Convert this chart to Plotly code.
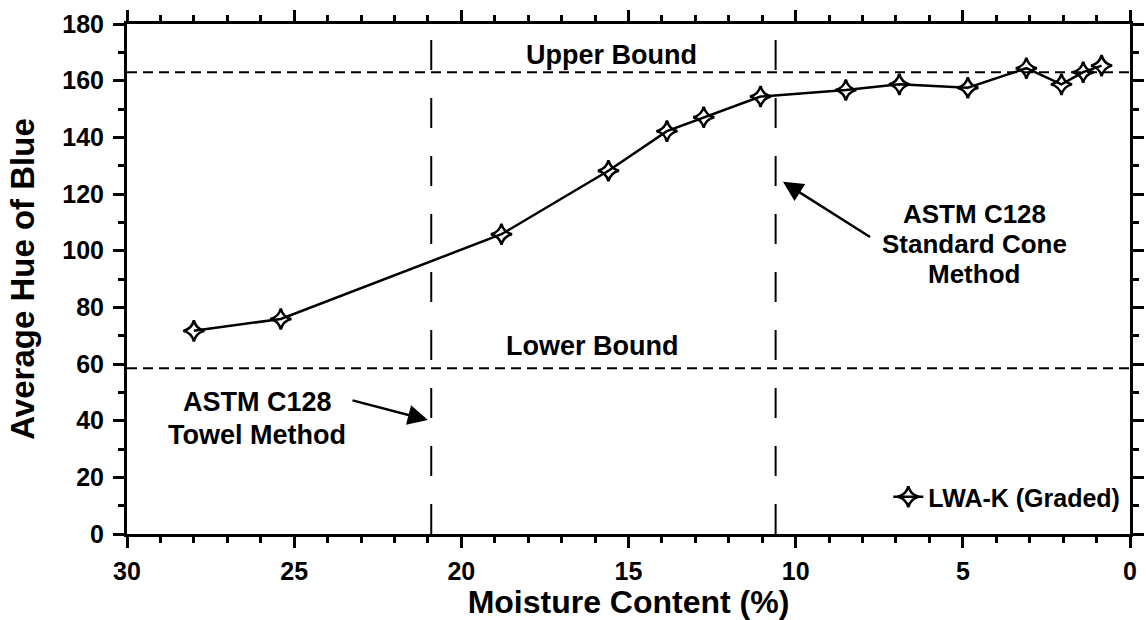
import plotly.graph_objects as go

# Moisture content (%) and average hue of blue for LWA-K (Graded)
moisture = [28.0, 25.4, 18.8, 15.6, 13.85, 12.75, 11.05, 8.5, 6.9, 4.85, 3.1, 2.05, 1.4, 0.85]
hue = [71.7, 75.9, 105.8, 128.2, 142.2, 147.1, 154.4, 156.7, 158.7, 157.5, 164.4, 158.7, 163.0, 165.3]
series_name = "LWA-K (Graded)"

# Reference bounds and ASTM C128 moisture levels
upper_bound = 163.0
lower_bound = 58.5
towel_method = 20.9
cone_method = 10.6

x_range = [30, 0]
y_range = [0, 180]

FONT = "Liberation Sans, Arial, sans-serif"
L, R, T, B = 127, 2, 24, 86

fig = go.Figure()
fig.add_trace(go.Scatter(
    x=moisture, y=hue, mode="lines+markers", name=series_name,
    line=dict(color="black", width=2.5),
    marker=dict(symbol="star-diamond-open", size=15, color="black",
                line=dict(color="black", width=2.5)),
    cliponaxis=False,
))

# Horizontal bound lines
for yb in (upper_bound, lower_bound):
    fig.add_shape(type="line", xref="paper", yref="y", x0=0, x1=1, y0=yb, y1=yb,
                  line=dict(color="black", width=2, dash="10px,6px"), layer="below")
# Vertical method lines
for xm in (towel_method, cone_method):
    fig.add_shape(type="line", xref="x", yref="paper", x0=xm, x1=xm, y0=0, y1=1,
                  line=dict(color="black", width=2, dash="30px,28px"), layer="below")

tfont = dict(family=FONT, size=27, color="black", weight="bold")


def label(x, y, text, size=27):
    fig.add_annotation(x=x, y=y, text=text, showarrow=False,
                       font=dict(tfont, size=size),
                       xanchor="center", yanchor="middle")


label(15.5, upper_bound + 6, "Upper Bound")
label(16.1, lower_bound + 8, "Lower Bound")
label(26.1, 46.6, "ASTM C128")
label(26.1, 34.9, "Towel Method")
label(4.66, 113.0, "ASTM C128", 26)
label(4.66, 102.4, "Standard Cone", 26)
label(4.66, 91.8, "Method", 26)

# Arrows pointing at the method lines
fig.add_annotation(x=21.0, y=40.2, ax=23.3, ay=47.3, axref="x", ayref="y", text="",
                   showarrow=True, arrowhead=2, arrowsize=1.6, arrowwidth=2.5, arrowcolor="black")
fig.add_annotation(x=10.38, y=124.3, ax=7.73, ay=104.5, axref="x", ayref="y", text="",
                   showarrow=True, arrowhead=2, arrowsize=1.6, arrowwidth=2.5, arrowcolor="black")

axis_common = dict(
    showline=True, linecolor="black", linewidth=3, mirror="allticks",
    ticks="outside", ticklen=11, tickwidth=2.5, tickcolor="black",
    showgrid=False, zeroline=False,
    tickfont=dict(family=FONT, size=25, color="black", weight="bold"),
)

fig.update_xaxes(
    range=x_range, tick0=0, dtick=5,
    minor=dict(ticks="outside", ticklen=6, tickwidth=2.5, tickcolor="black", dtick=1, showgrid=False),
    title=dict(text="Moisture Content (%)", standoff=4,
               font=dict(family=FONT, size=32, color="black", weight="bold")),
    ticklabelstandoff=2,
    **axis_common,
)
fig.update_yaxes(
    range=y_range, tick0=0, dtick=20,
    minor=dict(ticks="outside", ticklen=6, tickwidth=2.5, tickcolor="black", dtick=10, showgrid=False),
    title=dict(text="Average Hue of Blue", standoff=18,
               font=dict(family=FONT, size=33, color="black", weight="bold")),
    ticklabelstandoff=4,
    **axis_common,
)

fig.update_layout(
    width=1146, height=620,
    margin=dict(l=L, r=R, t=T, b=B),
    paper_bgcolor="white", plot_bgcolor="white",
    showlegend=True,
    legend=dict(x=0.759, y=0.0725, xanchor="left", yanchor="middle",
                bgcolor="rgba(0,0,0,0)", borderwidth=0,
                font=dict(family=FONT, size=25, color="black", weight="bold")),
)

fig.write_html("out.html")
